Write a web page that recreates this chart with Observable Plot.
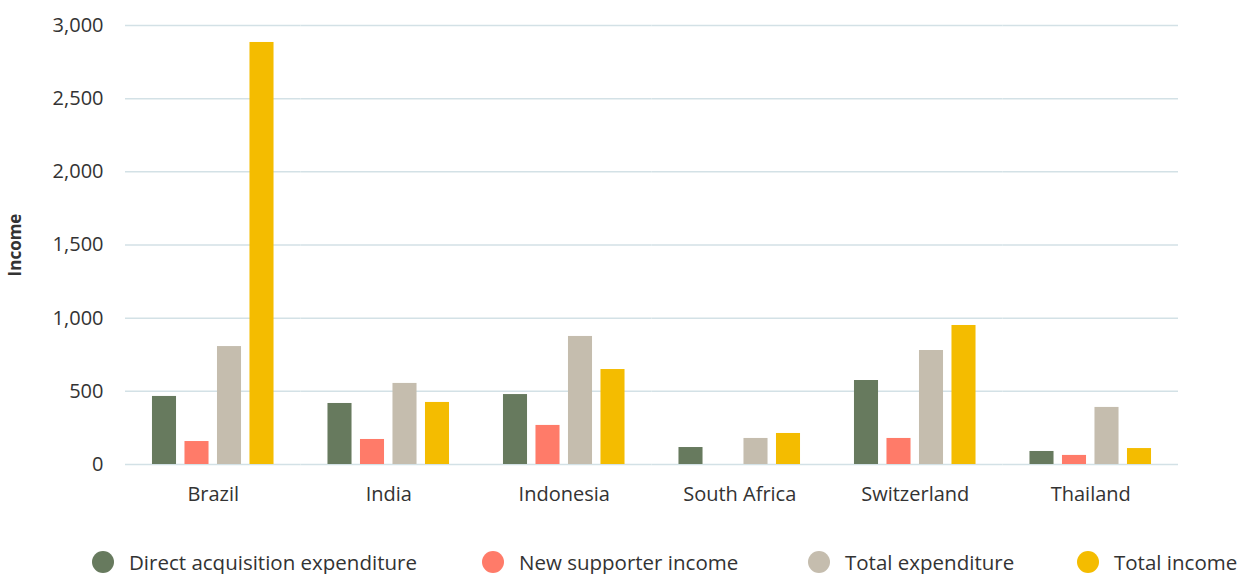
<!DOCTYPE html>
<html>
<head>
<meta charset="utf-8">
<script src="https://cdn.jsdelivr.net/npm/d3@7"></script>
<script src="https://cdn.jsdelivr.net/npm/@observablehq/plot@0.6"></script>
<style>
  html, body { margin: 0; padding: 0; background: #fff; }
  body { width: 1244px; height: 574px; overflow: hidden; font-family: "Open Sans", sans-serif; }
  #chart { position: relative; }
  .legend { position: absolute; top: 551px; left: 0; width: 1244px; height: 22px; font-size: 20.5px; line-height: 22px; color: #333; }
  .legend .item { position: absolute; top: 0; height: 22px; display: flex; align-items: center; white-space: nowrap; }
  .legend .sw { width: 22px; height: 22px; border-radius: 50%; margin-right: 15px; flex: none; }
</style>
</head>
<body>
<div id="chart"></div>
<script>
const countries = ["Brazil", "India", "Indonesia", "South Africa", "Switzerland", "Thailand"];
const series = ["Direct acquisition expenditure", "New supporter income", "Total expenditure", "Total income"];
const colors = ["#677a5e", "#ff7b69", "#c5bdae", "#f4bc00"];
const directAcquisition = [465, 417, 478, 116, 574, 89];
const newSupporter = [157, 171, 267, null, 178, 62];
const totalExpenditure = [806, 554, 875, 178, 779, 390];
const totalIncome = [2884, 424, 649, 212, 950, 109];
const yTicks = [0, 500, 1000, 1500, 2000, 2500, 3000];

const valuesBySeries = [directAcquisition, newSupporter, totalExpenditure, totalIncome];
const data = [];
countries.forEach((c, i) => {
  series.forEach((s, j) => {
    const v = valuesBySeries[j][i];
    if (v != null) data.push({country: c, series: s, value: v});
  });
});

const chart = Plot.plot({
  width: 1244,
  height: 520,
  marginTop: 25,
  marginLeft: 125,
  marginRight: 66,
  marginBottom: 56,
  style: {fontFamily: "'Open Sans', sans-serif", fontSize: "20px", color: "#333"},
  fx: {domain: countries, padding: 0, label: null, round: false},
  x: {domain: series, axis: null, paddingInner: 0.26, paddingOuter: 0.83, round: false},
  y: {domain: [0, 3000], ticks: yTicks},
  color: {domain: series, range: colors},
  marks: [
    Plot.ruleY(yTicks, {stroke: "#d3e1e6", strokeWidth: 1.5}),
    Plot.barY(data, {fx: "country", x: "series", y: "value", fill: "series"}),
    Plot.axisY({ticks: yTicks, tickSize: 0, tickPadding: 22, tickFormat: d3.format(","), label: "Income", labelAnchor: "center", labelArrow: "none", labelOffset: 117, fontSize: 20}),
    Plot.axisFx({anchor: "bottom", tickSize: 0, tickPadding: 22, label: null, fontSize: 20})
  ]
});
document.getElementById("chart").appendChild(chart);
chart.querySelectorAll("g[aria-label='y-axis label'] text, g[aria-label='y-axis label']").forEach(t => { t.style.fontWeight = "bold"; t.style.fontSize = "17px"; });

const legend = document.createElement("div");
legend.className = "legend";
const lefts = [92, 482, 808, 1077];
series.forEach((s, j) => {
  const item = document.createElement("div");
  item.className = "item";
  item.style.left = lefts[j] + "px";
  const sw = document.createElement("span");
  sw.className = "sw";
  sw.style.background = colors[j];
  const label = document.createElement("span");
  label.textContent = s;
  item.appendChild(sw);
  item.appendChild(label);
  legend.appendChild(item);
});
document.getElementById("chart").appendChild(legend);
</script>
</body>
</html>
